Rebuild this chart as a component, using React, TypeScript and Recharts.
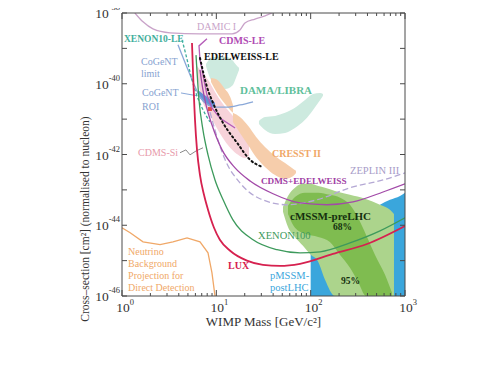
import React from 'react';
import { ComposedChart, XAxis, YAxis, Line, Area, Scatter, Label } from 'recharts';

// ---- axis ticks ----
const massTicks = [1, 2, 3, 4, 5, 6, 7, 8, 9, 10, 20, 30, 40, 50, 60, 70, 80, 90, 100, 200, 300, 400, 500, 600, 700, 800, 900, 1000];
const sigmaExps = [-46, -45, -44, -43, -42, -41, -40, -39, -38];

// ---- curves: [WIMP mass GeV, log10 cross-section cm^2] ----
const lux: [number, number][] = [[5.52, -38.85], [5.94, -41.02], [6.24, -41.87], [6.71, -42.58], [7.4, -43.14], [8.16, -43.56], [9.45, -44.07], [10.9, -44.41], [14.0, -44.72], [21.1, -45.0], [31.2, -45.12], [47.3, -45.15], [77.1, -45.09], [172, -44.81], [395, -44.53], [1000, -44.02]];
const xenon100: [number, number][] = [[6.09, -39.19], [6.55, -40.46], [7.22, -41.31], [8.16, -42.01], [9.68, -42.72], [11.8, -43.28], [15.0, -43.85], [24.5, -44.41], [44.0, -44.69], [77.1, -44.78], [126, -44.75], [261, -44.5], [543, -44.16], [1000, -43.79]];
const cdmsEdelweiss: [number, number][] = [[6.71, -39.61], [7.22, -40.18], [7.77, -40.6], [8.98, -41.16], [11.5, -41.87], [15.8, -42.38], [22.8, -42.75], [39.9, -43.11], [77.1, -43.37], [149, -43.42], [281, -43.34], [585, -43.06], [1000, -42.83]];
const zeplin3: [number, number][] = [[8.57, -40.8], [10.4, -41.59], [12.4, -42.15], [17.8, -42.8], [29.0, -43.25], [56.1, -43.42], [117, -43.28], [261, -42.94], [585, -42.72], [1000, -42.52]];
const edelweissLE: [number, number][] = [[6.71, -39.27], [7.96, -40.09], [9.22, -40.54], [11.8, -41.11], [16.6, -41.67], [22.8, -42.15], [30.5, -42.35]];
const damic: [number, number][] = [[1.37, -38.0], [1.67, -38.25], [2.13, -38.45], [3.23, -38.56], [6.71, -38.59], [14.7, -38.59], [17.8, -38.48], [20.1, -38.28], [25.7, -38.17], [32.8, -38.08], [38.9, -38.0]];
const xenon10LE: [number, number][] = [[4.33, -38.76], [4.77, -39.19], [5.26, -39.67], [5.94, -40.18], [7.05, -40.68], [8.57, -41.08]];
const cogentLimit: [number, number][] = [[3.92, -38.9], [4.77, -39.47], [5.66, -39.95], [6.71, -40.37], [7.96, -40.57], [9.68, -40.66], [12.97, -40.66], [17.8, -40.6], [24.5, -40.51]];
const cdmsLE: [number, number][] = [[7.96, -38.73], [6.55, -38.93], [6.71, -39.33], [7.22, -39.75], [7.96, -40.32], [8.98, -40.68], [10.9, -40.97], [15.8, -41.25]];
const neutrino: [number, number][] = [[1, -44.07], [1.22, -44.21], [1.67, -44.47], [2.53, -44.55], [3.47, -44.47], [4.89, -44.36], [6.71, -44.47], [8.16, -44.78], [8.98, -45.34], [9.68, -46]];
const cogentPointer: [number, number][] = [[4.22, -40.26], [6.24, -40.34]];
const cdmsSiPointer: [number, number][] = [[4.12, -41.95], [4.76, -41.87], [5.26, -42.01], [6.09, -41.9], [7.22, -41.81]];

// ---- regions: [mass, log10 lower, log10 upper] ----
const pmssm: [number, number, number][] = [[100, -46, -44.64], [126, -46, -44.5], [160, -46, -44.33], [205, -46, -44.16], [261, -46, -43.99], [333, -46, -43.79], [426, -46, -43.62], [543, -46, -43.42], [693, -46, -43.28], [885, -46, -43.17], [1000, -46, -43.08]];
const cmssm95: [number, number, number][] = [[50.9, -43.62, -43.48], [57.5, -44.05, -43.17], [68.2, -44.33, -42.94], [82.9, -44.58, -42.83], [98.4, -44.81, -42.83], [120, -45.03, -42.89], [142, -45.54, -42.94], [181, -46, -43.03], [261, -46, -43.14], [377, -46, -43.25], [543, -46, -43.42], [693, -46, -43.56], [764, -46, -43.68]];
const cmssm68: [number, number, number][] = [[57.5, -43.68, -43.45], [68.2, -44.07, -43.2], [87.1, -44.24, -43.08], [120, -44.33, -43.08], [160, -44.47, -43.14], [205, -44.84, -43.22], [261, -45.2, -43.42], [318, -45.6, -43.79], [386, -46, -44.27], [481, -46, -44.84], [614, -46, -45.4], [728, -46, -45.91]];
const damaA: [number, number, number][] = [[7.77, -39.5, -39.44], [8.57, -39.84, -39.3], [10.2, -40.06, -39.24], [12.4, -40.15, -39.24], [14.7, -40.06, -39.33], [16.6, -39.75, -39.5], [17.4, -39.61, -39.55]];
const damaB: [number, number, number][] = [[28.3, -41.14, -41.05], [32.8, -41.31, -40.94], [41.9, -41.42, -40.91], [53.5, -41.39, -40.82], [68.2, -41.25, -40.68], [87.1, -41.02, -40.46], [106, -40.74, -40.29], [126, -40.46, -40.26], [135, -40.34, -40.29]];
const cresstA: [number, number, number][] = [[8.78, -39.95, -39.84], [10.2, -40.26, -39.89], [12.1, -40.54, -40.12], [14.0, -40.74, -40.37], [15.0, -40.82, -40.6]];
const cresstB: [number, number, number][] = [[15.0, -41.08, -40.82], [17.8, -41.39, -40.94], [21.7, -41.73, -41.19], [26.3, -42.07, -41.5], [32.8, -42.35, -41.79], [41.9, -42.58, -42.04], [53.5, -42.69, -42.24], [63.4, -42.63, -42.38], [69.9, -42.52, -42.46]];
const cdmsSi: [number, number, number][] = [[6.24, -39.75, -39.5], [7.05, -40.46, -39.67], [8.16, -40.8, -39.89], [9.68, -41.16, -40.23], [11.5, -41.5, -40.54], [14.0, -41.81, -40.82], [17.0, -42.01, -41.08], [20.1, -42.1, -41.39], [22.2, -42.04, -41.73]];
const cogentROI: [number, number, number][] = [[6.39, -40.32, -40.18], [7.22, -40.51, -40.29], [8.36, -40.63, -40.4], [9.68, -40.68, -40.54]];
const cdmsSiBest: [number, number, number][] = [[8.16, -40.77, -40.66], [9.0, -40.77, -40.66]];

// ---- text annotations: [text, mass at left edge, log10 sigma at centre, style key] ----
const notes: [string, number, number, string][] = [
  ['DAMIC I', 6.24, -38.37, 'damic'],
  ['XENON10-LE', 1.05, -38.73, 'xe10'],
  ['CDMS-LE', 10.7, -38.79, 'cdmsle'],
  ['EDELWEISS-LE', 7.4, -39.24, 'edel'],
  ['CoGeNT', 1.59, -39.38, 'cogent'],
  ['limit', 1.59, -39.72, 'cogent'],
  ['CoGeNT', 1.63, -40.26, 'cogent'],
  ['ROI', 1.63, -40.64, 'cogent'],
  ['DAMA/LIBRA', 17.8, -40.18, 'dama'],
  ['CDMS-Si', 1.48, -41.93, 'cdmssi'],
  ['CRESST II', 38.9, -41.98, 'cresst'],
  ['ZEPLIN III', 261, -42.46, 'zeplin'],
  ['CDMS+EDELWEISS', 29.7, -42.75, 'cdmsed'],
  ['cMSSM-preLHC', 60.4, -43.73, 'cmssm'],
  ['68%', 172, -44.05, 'pct'],
  ['XENON100', 27.7, -44.3, 'xe100'],
  ['LUX', 13.3, -45.15, 'lux'],
  ['pMSSM-', 37.1, -45.43, 'pmssm'],
  ['postLHC', 37.1, -45.77, 'pmssm'],
  ['95%', 210, -45.57, 'pct'],
  ['Neutrino', 1.16, -44.75, 'nu'],
  ['Background', 1.16, -45.09, 'nu'],
  ['Projection for', 1.16, -45.43, 'nu'],
  ['Direct Detection', 1.16, -45.77, 'nu'],
];

const SERIF = '"Liberation Serif", "Times New Roman", Times, serif';
const FRAME = '#4a4a4a';

const C = {
  lux: '#d6214f',
  xe100: '#3d9a5c',
  cdmsed: '#a24aa8',
  zeplin: '#b4a8d4',
  damic: '#c9a3c9',
  xe10: '#3fae9c',
  cogent: '#8aa8d8',
  edel: '#111111',
  cdmsle: '#b55cb8',
  nu: '#f0a868',
  pmssm: '#3aa6dc',
  c95: '#acd48c',
  c68: '#7fbc50',
  dama: '#cdeadf',
  cresst: '#f6cdab',
  cdmssi: '#f7d3da',
  roi: '#6390d4',
  best: '#e0504a',
};

const noteStyle: Record<string, { color: string; size: number; weight: string }> = {
  damic: { color: '#c9a3c9', size: 10, weight: 'normal' },
  xe10: { color: '#3fae9c', size: 9.5, weight: 'bold' },
  cdmsle: { color: '#b04cb4', size: 10, weight: 'bold' },
  edel: { color: '#111111', size: 10, weight: 'bold' },
  cogent: { color: '#86a2d0', size: 10, weight: 'normal' },
  dama: { color: '#5fbf9c', size: 11, weight: 'bold' },
  cdmssi: { color: '#e79aaa', size: 10, weight: 'normal' },
  cresst: { color: '#f0a868', size: 10, weight: 'bold' },
  zeplin: { color: '#a89cc8', size: 10.5, weight: 'normal' },
  cdmsed: { color: '#a040a4', size: 9.2, weight: 'bold' },
  cmssm: { color: '#15300f', size: 11, weight: 'bold' },
  pct: { color: '#15300f', size: 9.5, weight: 'bold' },
  xe100: { color: '#3d9a5c', size: 10.5, weight: 'normal' },
  lux: { color: '#d6214f', size: 10, weight: 'bold' },
  pmssm: { color: '#3aa6dc', size: 10.5, weight: 'normal' },
  nu: { color: '#f0a868', size: 10, weight: 'normal' },
};

// ---- build tables the library needs ----
const toLine = (pts: [number, number][]) => pts.map(([x, e]) => ({ x, y: Math.pow(10, e) }));
const toRange = (pts: [number, number, number][]) => pts.map(([x, lo, hi]) => ({ x, r: [Math.pow(10, lo), Math.pow(10, hi)] }));
const sigmaTicks = sigmaExps.map((e) => Math.pow(10, e));
const noteData = notes.map(([text, x, e, k]) => ({ x, y: Math.pow(10, e), text, k }));

const isDecade = (v: number) => {
  const l = Math.log10(v);
  return Math.abs(l - Math.round(l)) < 1e-6;
};

const XTickBottom = (p: any) => {
  const { x, y, payload } = p;
  const major = isDecade(payload.value);
  const e = Math.round(Math.log10(payload.value));
  return (
    <g>
      <line x1={x} x2={x} y1={y} y2={y - (major ? 6 : 3)} stroke={FRAME} strokeWidth={1} />
      {major && (
        <text x={x + 3} y={y + 16} textAnchor="middle" fontFamily={SERIF} fontSize={13.5} fill="#333">
          10<tspan dy={-7} fontSize={8.5}>{e}</tspan>
        </text>
      )}
    </g>
  );
};

const XTickTop = (p: any) => {
  const { x, y, payload } = p;
  const major = isDecade(payload.value);
  return <line x1={x} x2={x} y1={y} y2={y + (major ? 6 : 3)} stroke={FRAME} strokeWidth={1} />;
};

const YTickLeft = (p: any) => {
  const { x, y, payload } = p;
  const e = Math.round(Math.log10(payload.value));
  const labelled = e % 2 === 0;
  return (
    <g>
      <line x1={x} x2={x + 5} y1={y} y2={y} stroke={FRAME} strokeWidth={1} />
      {labelled && (
        <text x={x - 2} y={y + 5} textAnchor="end" fontFamily={SERIF} fontSize={13.5} fill="#333">
          10<tspan dy={-8} fontSize={8.5}>{e}</tspan>
        </text>
      )}
    </g>
  );
};

const YTickRight = (p: any) => {
  const { x, y } = p;
  return <line x1={x} x2={x - 5} y1={y} y2={y} stroke={FRAME} strokeWidth={1} />;
};

const NoteShape = (p: any) => {
  const { cx, cy, payload } = p;
  const st = noteStyle[payload.k];
  return (
    <text x={cx} y={cy} dominantBaseline="central" fill={st.color} fontSize={st.size} fontWeight={st.weight} fontFamily={SERIF}>
      {payload.text}
    </text>
  );
};

const region = (data: [number, number, number][], fill: string, key: string) => (
  <Area
    key={key}
    data={toRange(data)}
    dataKey="r"
    type="monotone"
    stroke="none"
    fill={fill}
    fillOpacity={1}
    isAnimationActive={false}
    dot={false}
    activeDot={false}
  />
);

const curve = (data: [number, number][], stroke: string, key: string, extra: any = {}) => (
  <Line
    key={key}
    data={toLine(data)}
    dataKey="y"
    type="monotone"
    stroke={stroke}
    strokeWidth={1.3}
    dot={false}
    activeDot={false}
    isAnimationActive={false}
    {...extra}
  />
);

export default function App() {
  return (
    <div style={{ width: 500, height: 389, margin: '-8px -8px -8px -8px' }}>
      <ComposedChart width={500} height={389} margin={{ top: 12, right: 94, bottom: 43, left: 0 }}>
        <XAxis
          dataKey="x"
          type="number"
          scale="log"
          domain={[1, 1000]}
          allowDataOverflow
          ticks={massTicks}
          interval={0}
          tickSize={0}
          tickMargin={0}
          tickLine={false}
          axisLine={{ stroke: FRAME }}
          tick={(p: any) => <XTickBottom {...p} />}
          height={50}
        >
          <Label
            content={(lp: any) => {
              const vb = lp.viewBox || { x: 122, y: 296, width: 283, height: 50 };
              return (
                <text x={vb.x + vb.width / 2} y={vb.y + 30} textAnchor="middle" fontFamily={SERIF} fontSize={13} fill="#333">
                  WIMP Mass [GeV/c²]
                </text>
              );
            }}
          />
        </XAxis>
        <XAxis
          xAxisId="top"
          orientation="top"
          dataKey="x"
          type="number"
          scale="log"
          domain={[1, 1000]}
          allowDataOverflow
          ticks={massTicks}
          interval={0}
          tickSize={0}
          tickMargin={0}
          tickLine={false}
          axisLine={{ stroke: FRAME }}
          tick={(p: any) => <XTickTop {...p} />}
          height={1}
        />
        <YAxis
          type="number"
          scale="log"
          domain={[1e-46, 1e-38]}
          allowDataOverflow
          ticks={sigmaTicks}
          interval={0}
          tickSize={0}
          tickMargin={0}
          tickLine={false}
          axisLine={{ stroke: FRAME }}
          tick={(p: any) => <YTickLeft {...p} />}
          width={122}
        >
          <Label
            content={(lp: any) => {
              const vb = lp.viewBox || { x: 0, y: 13, width: 122, height: 283 };
              const cx = vb.x + 85;
              const cy = vb.y + 206;
              return (
                <text
                  x={cx}
                  y={cy}
                  transform={`rotate(-90, ${cx}, ${cy})`}
                  textAnchor="middle"
                  dominantBaseline="central"
                  fontFamily={SERIF}
                  fontSize={11.5}
                  fill="#333"
                >
                  Cross–section [cm²] (normalised to nucleon)
                </text>
              );
            }}
          />
        </YAxis>
        <YAxis
          yAxisId="right"
          orientation="right"
          type="number"
          scale="log"
          domain={[1e-46, 1e-38]}
          allowDataOverflow
          ticks={sigmaTicks}
          interval={0}
          tickSize={0}
          tickMargin={0}
          tickLine={false}
          axisLine={{ stroke: FRAME }}
          tick={(p: any) => <YTickRight {...p} />}
          width={1}
        />

        {region(pmssm, C.pmssm, 'pmssm')}
        {region(cmssm95, C.c95, 'c95')}
        {region(cmssm68, C.c68, 'c68')}
        {region(damaA, C.dama, 'damaA')}
        {region(damaB, C.dama, 'damaB')}
        {region(cdmsSi, C.cdmssi, 'cdmssi')}
        {region(cresstA, C.cresst, 'cresstA')}
        {region(cresstB, C.cresst, 'cresstB')}
        {region(cogentROI, C.roi, 'roi')}
        {region(cdmsSiBest, C.best, 'best')}

        {curve(damic, C.damic, 'damic')}
        {curve(neutrino, C.nu, 'nu', { type: 'linear' })}
        {curve(zeplin3, C.zeplin, 'zeplin', { strokeDasharray: '6 3' })}
        {curve(cogentLimit, C.cogent, 'cogent')}
        {curve(cogentPointer, C.cogent, 'cogentPtr', { type: 'linear', strokeWidth: 1 })}
        {curve(cdmsSiPointer, '#8a8a8a', 'cdmsSiPtr', { type: 'linear', strokeWidth: 1 })}
        {curve(xenon10LE, C.xe10, 'xe10', { strokeDasharray: '3 2' })}
        {curve(cdmsLE, C.cdmsle, 'cdmsle', { type: 'linear' })}
        {curve(cdmsEdelweiss, C.cdmsed, 'cdmsed')}
        {curve(xenon100, C.xe100, 'xe100')}
        {curve(edelweissLE, C.edel, 'edel', { strokeDasharray: '1.5 3', strokeWidth: 2, strokeLinecap: 'round' })}
        {curve(lux, C.lux, 'lux', { strokeWidth: 1.8 })}

        <Scatter data={noteData} dataKey="y" isAnimationActive={false} shape={(p: any) => <NoteShape {...p} />} />
      </ComposedChart>
    </div>
  );
}
